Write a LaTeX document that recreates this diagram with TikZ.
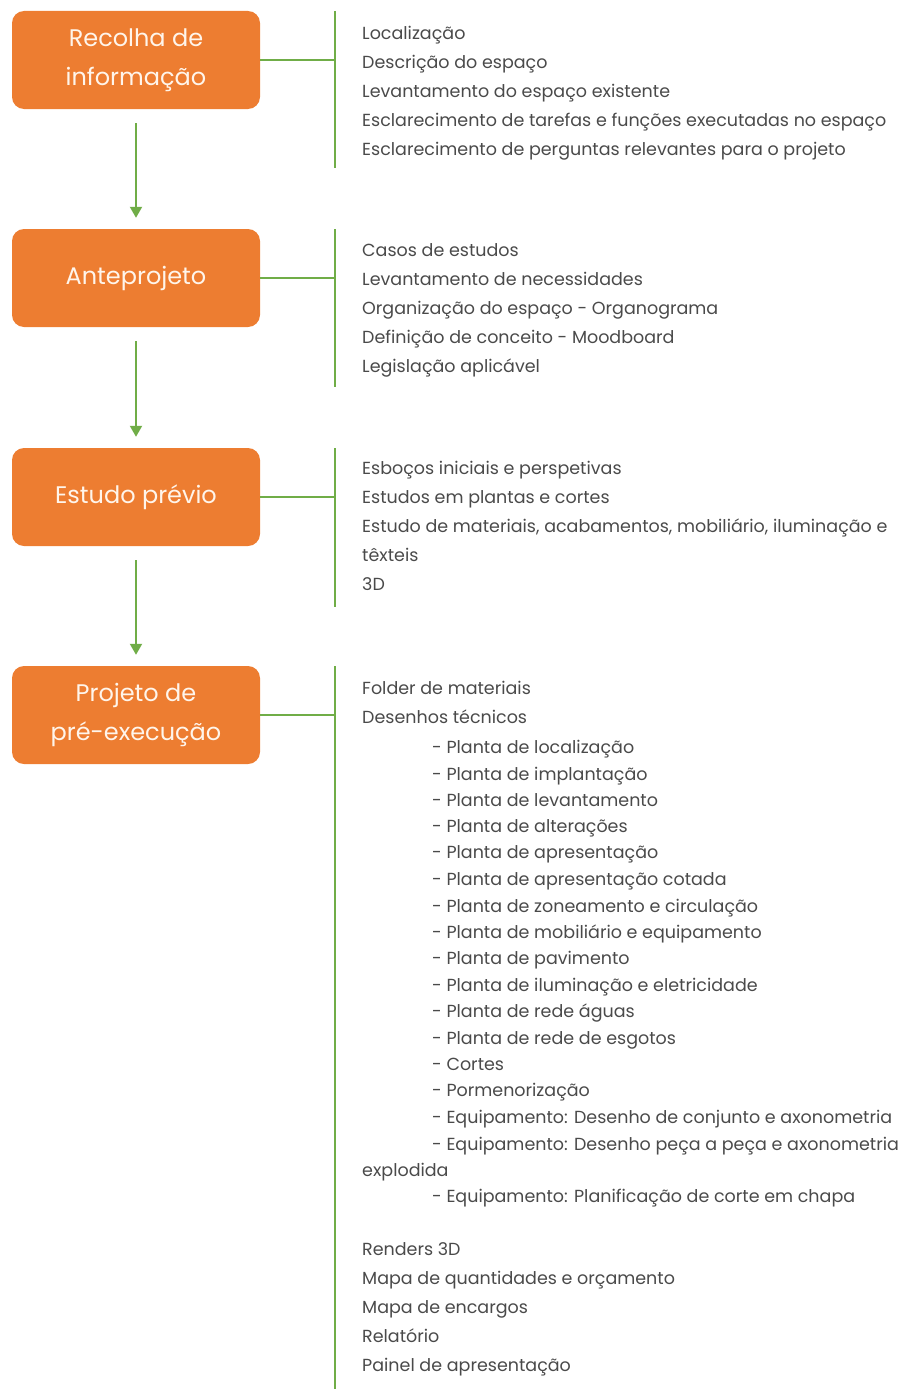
\documentclass[tikz,border=0pt]{standalone}
\usepackage{fontspec}
\setmainfont{Poppins}
\usetikzlibrary{arrows.meta}
\definecolor{boxorange}{HTML}{ED7D31}
\definecolor{linegreen}{HTML}{70AD47}
\definecolor{txtgray}{HTML}{4A4A4A}

\begin{document}
\begin{tikzpicture}[x=1pt,y=-1pt,
    stage/.style={rectangle,rounded corners=12pt,fill=boxorange,text=orange!8,
                  minimum width=248pt,minimum height=98pt,align=center,
                  font=\fontsize{24}{39}\selectfont},
    item/.style={anchor=west,inner sep=0pt,text height=13pt,text depth=4pt,yshift=-2pt,
                 text=txtgray,font=\fontsize{17.5}{21}\selectfont},
    link/.style={draw=linegreen,line width=2pt},
    flow/.style={link,-{Triangle[width=12pt,length=11pt]},shorten <=14pt,shorten >=11pt}]
  \useasboundingbox (0,0) rectangle (916,1389);

  % stages
  \node[stage] (r) at (136,60)  {Recolha de\\informação};
  \node[stage] (a) at (136,278) {Anteprojeto};
  \node[stage] (e) at (136,497) {Estudo prévio};
  \node[stage] (p) at (136,715) {Projeto de\\pré-execução};

  \draw[flow] (r) -- (a);
  \draw[flow] (a) -- (e);
  \draw[flow] (e) -- (p);

  % brackets
  \coordinate (b1) at (335,60);  \coordinate (b2) at (335,278);
  \coordinate (b3) at (335,497); \coordinate (b4) at (335,715);
  \draw[link] (r) -- (b1);
  \draw[link] (a) -- (b2);
  \draw[link] (e) -- (b3);
  \draw[link] (p) -- (b4);
  \draw[link] (335,11) -- (335,168);
  \draw[link] (335,229) -- (335,387);
  \draw[link] (335,448) -- (335,607);
  \draw[link] (335,666) -- (335,1389);

  % lists
  \foreach \y/\t [count=\i] in {33/Localização, 62/Descrição do espaço,
      91/Levantamento do espaço existente,
      120/Esclarecimento de tarefas e funções executadas no espaço,
      149/Esclarecimento de perguntas relevantes para o projeto}
    \node[item] (r-\i) at (362,\y) {\t};

  \foreach \y/\t [count=\i] in {250/Casos de estudos, 279/Levantamento de necessidades,
      308/Organização do espaço - Organograma, 337/Definição de conceito - Moodboard,
      366/Legislação aplicável}
    \node[item] (a-\i) at (362,\y) {\t};

  \foreach \y/\t [count=\i] in {468/Esboços iniciais e perspetivas,
      497/Estudos em plantas e cortes,
      526/{Estudo de materiais, acabamentos, mobiliário, iluminação e},
      555/têxteis, 584/3D}
    \node[item] (e-\i) at (362,\y) {\t};

  \foreach \x/\y/\t [count=\i] in {362/688/Folder de materiais, 362/717/Desenhos técnicos,
      432/747/- Planta de localização, 432/774/- Planta de implantação,
      432/800/- Planta de levantamento, 432/826/- Planta de alterações,
      432/852/- Planta de apresentação, 432/879/- Planta de apresentação cotada,
      432/906/- Planta de zoneamento e circulação, 432/932/- Planta de mobiliário e equipamento,
      432/958/- Planta de pavimento, 432/985/- Planta de iluminação e eletricidade,
      432/1011/- Planta de rede águas, 432/1038/- Planta de rede de esgotos,
      432/1064/- Cortes, 432/1090/- Pormenorização,
      432/1117/- Equipamento: Desenho de conjunto e axonometria,
      432/1144/- Equipamento: Desenho peça a peça e axonometria,
      362/1170/explodida, 432/1196/- Equipamento: Planificação de corte em chapa,
      362/1249/Renders 3D, 362/1278/Mapa de quantidades e orçamento,
      362/1307/Mapa de encargos, 362/1336/Relatório, 362/1365/Painel de apresentação}
    \node[item] (p-\i) at (\x,\y) {\t};
\end{tikzpicture}
\end{document}
